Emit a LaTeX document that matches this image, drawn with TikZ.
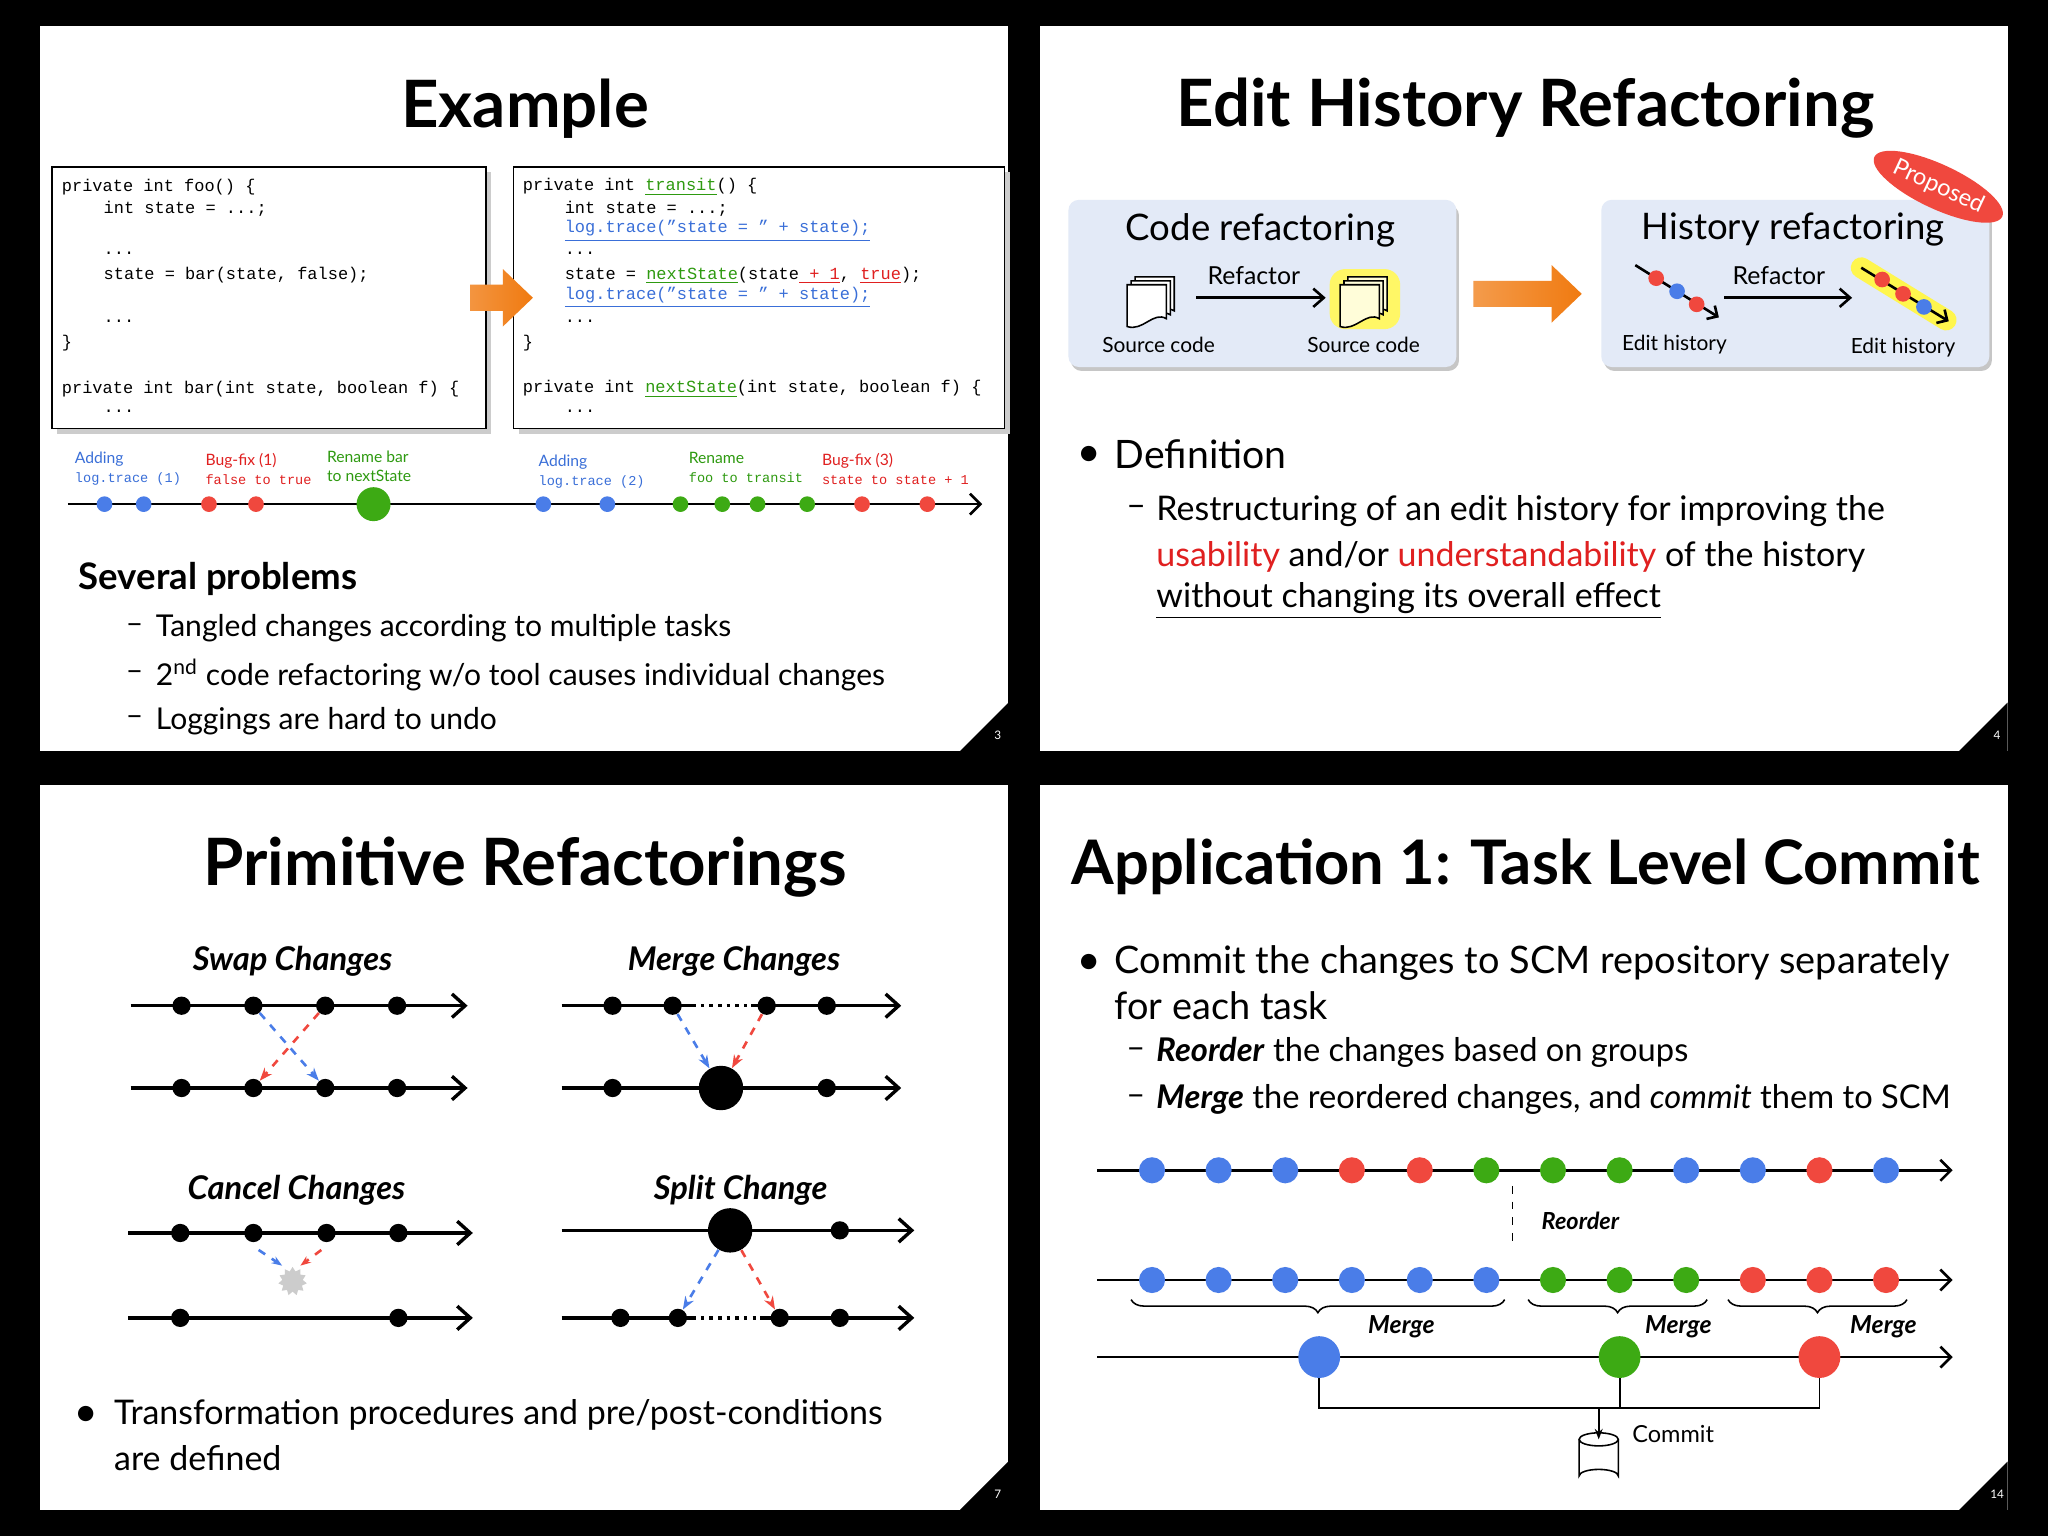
\documentclass[tikz,border=0pt]{standalone}
\usepackage{fontspec}
\setmainfont{Lato}
\newfontfamily\mono{Liberation Mono}
\usetikzlibrary{arrows.meta,shapes.geometric,decorations.pathreplacing,shadings}
\definecolor{cB}{HTML}{4A7DE8}
\definecolor{cR}{HTML}{F0483E}
\definecolor{cG}{HTML}{3DAA14}
\definecolor{tB}{HTML}{3A6FD8}
\definecolor{tR}{HTML}{E02020}
\definecolor{tG}{HTML}{2E9A10}
\definecolor{boxbg}{HTML}{E3EAF7}
\definecolor{orng}{HTML}{F07A10}
\newcommand\lm[1]{{\mono\fontsize{5.2}{7.2}\selectfont #1}}
\tikzset{
  x=0.5pt,y=-0.5pt,
  title/.style={font=\fontsize{25}{28}\selectfont\bfseries},
  body/.style={anchor=west,inner sep=0pt,font=\fontsize{11.5}{14}\selectfont},
  code/.style={anchor=west,inner sep=0pt,font=\mono\fontsize{6.5}{8}\selectfont},
  lbl/.style={anchor=west,inner sep=0pt,align=left,font=\fontsize{6}{7.2}\selectfont},
  dot/.style={circle,inner sep=0pt,minimum size=6pt,draw=none},
  big/.style={circle,inner sep=0pt,minimum size=13pt,draw=none},
  bk/.style={dot,fill=black,minimum size=7pt},
  bkbig/.style={circle,inner sep=0pt,minimum size=17pt,fill=black},
  tl/.style={line width=1pt,-{Straight Barb[length=4pt,width=8pt]}},
  tl3/.style={line width=1.3pt,-{Straight Barb[length=5pt,width=9pt]}},
  hd/.style={font=\fontsize{12.5}{14}\selectfont\bfseries\itshape},
  dsh/.style={line width=1pt,dashed,-{Stealth[length=5pt]}},
  pgn/.style={text=white,font=\fontsize{4.5}{5}\selectfont},
  pics/doc/.style={code={
    \foreach \o in {6,3,0}{
      \draw[fill=#1,line width=0.6pt] (\o,-\o) -- (30+\o,-\o) -- (30+\o,26-\o) .. controls (20+\o,20-\o) and (12+\o,36-\o) .. (\o,32-\o) -- cycle;}
  }},
}
\begin{document}
\begin{tikzpicture}
\fill[black] (0,0) rectangle (1568,1176);
\foreach \a/\b in {31/20,796/20,31/601,796/601}
  \fill[white] (\a,\b) rectangle (\a+741,\b+555);
\foreach \a/\b/\n in {772/575/3,1537/575/4,772/1156/7,1537/1156/14}{
  \fill[black] (\a,\b) -- (\a-37,\b) -- (\a,\b-37) -- cycle;
  \node[pgn] at (\a-8,\b-12) {\n};}

%================ Slide 1
\node[title] (t1) at (402,83) {Example};
\fill[gray!40] (44,132) rectangle (376,332);
\draw[fill=white,line width=0.6pt] (40,128) rectangle (372,328);
\fill[gray!40] (397,132) rectangle (773,332);
\draw[fill=white,line width=0.6pt] (393,128) rectangle (769,328);
\node[code] at (47,143) {private int foo() \{};
\node[code] at (79,160) {int state = ...;};
\node[code] at (79,194) {...};
\node[code] at (79,211) {state = bar(state, false);};
\node[code] at (79,246) {...};
\node[code] at (47,263) {\}};
\node[code] at (47,298) {private int bar(int state, boolean f) \{};
\node[code] at (79,315) {...};
\node[code] at (400,143) {private int \textcolor{tG}{\underline{transit}}() \{};
\node[code] at (432,160) {int state = ...;};
\node[code,text=tB] at (432,177) {\underline{log.trace(”state = ” + state);}};
\node[code] at (432,194) {...};
\node[code] at (432,211) {state = \textcolor{tG}{\underline{nextState}}(state\textcolor{tR}{\underline{ + 1}}, \textcolor{tR}{\underline{true}});};
\node[code,text=tB] at (432,228) {\underline{log.trace(”state = ” + state);}};
\node[code] at (432,246) {...};
\node[code] at (400,263) {\}};
\node[code] at (400,298) {private int \textcolor{tG}{\underline{nextState}}(int state, boolean f) \{};
\node[code] at (432,315) {...};
\shade[left color=orng!80,right color=orng,draw=none] (360,218) -- (385,218) -- (385,206) -- (408,228) -- (385,250) -- (385,238) -- (360,238) -- cycle;
\coordinate (a1) at (52,386); \coordinate (b1) at (752,386);
\draw[tl] (a1) -- (b1);
\foreach \x/\c in {80/cB,110/cB,160/cR,196/cR,416/cB,465/cB,521/cG,553/cG,580/cG,618/cG,660/cR,710/cR}
  \node[dot,fill=\c] at (\x,386) {};
\node[big,fill=cG] (g1) at (286,386) {};
\node[lbl,text=tB] at (57,359) {Adding\\\lm{log.trace (1)}};
\node[lbl,text=tR] at (157,359) {Bug-fix (1)\\\lm{false to true}};
\node[lbl,text=tG] at (250,357) {Rename bar\\to nextState};
\node[lbl,text=tB] at (412,361) {Adding\\\lm{log.trace (2)}};
\node[lbl,text=tG] at (527,358) {Rename\\\lm{foo to transit}};
\node[lbl,text=tR] at (629,359) {Bug-fix (3)\\\lm{state to state + 1}};
\node[body,font=\fontsize{14}{16}\selectfont\bfseries] at (60,443) {Several problems};
\node[body] at (96,481) {–}; \node[body] at (119,481) {Tangled changes according to multiple tasks};
\node[body] at (96,517) {–}; \node[body] at (119,517) {2\textsuperscript{nd} code refactoring w/o tool causes individual changes};
\node[body] at (96,552) {–}; \node[body] at (119,552) {Loggings are hard to undo};

%================ Slide 2
\node[title] (t2) at (1168,83) {Edit History Refactoring};
\fill[gray!45,rounded corners=4pt] (820,157) rectangle (1117,284);
\fill[boxbg,rounded corners=4pt] (818,153) rectangle (1115,281);
\fill[gray!45,rounded corners=4pt] (1228,157) rectangle (1525,284);
\fill[boxbg,rounded corners=4pt] (1226,153) rectangle (1523,281);
\node[font=\fontsize{14}{16}\selectfont] at (965,176) {Code refactoring};
\node[font=\fontsize{14}{16}\selectfont] at (1373,176) {History refactoring};
\pic at (863,218) {doc=white};
\fill[yellow!60,rounded corners=6pt] (1018,206) rectangle (1072,252);
\pic at (1026,218) {doc=yellow!15};
\node[font=\fontsize{9.5}{11}\selectfont] at (960,211) {Refactor};
\node[font=\fontsize{9.5}{11}\selectfont] at (1362,211) {Refactor};
\coordinate (r1a) at (916,228); \coordinate (r1b) at (1015,228);
\draw[line width=1pt,-{Straight Barb[length=4pt,width=7pt]}] (r1a) -- (r1b);
\coordinate (r2a) at (1320,228); \coordinate (r2b) at (1418,228);
\draw[line width=1pt,-{Straight Barb[length=4pt,width=7pt]}] (r2a) -- (r2b);
\node[font=\fontsize{8}{10}\selectfont] at (887,264) {Source code};
\node[font=\fontsize{8}{10}\selectfont] at (1044,264) {Source code};
\node[font=\fontsize{8}{10}\selectfont] at (1282,264) {Edit history};
\node[font=\fontsize{8}{10}\selectfont] at (1457,266) {Edit history};
\draw[line width=1pt,-{Straight Barb[length=3pt,width=6pt]}] (1252,203) -- (1316,243);
\node[dot,fill=cR] at (1268,213) {}; \node[dot,fill=cB] at (1284,223) {}; \node[dot,fill=cR] at (1299,233) {};
\draw[yellow!70,line width=8pt,line cap=round] (1425,205) -- (1490,245);
\draw[line width=1pt,-{Straight Barb[length=3pt,width=6pt]}] (1425,205) -- (1492,246);
\node[dot,fill=cR] at (1441,214) {}; \node[dot,fill=cR] at (1457,225) {}; \node[dot,fill=cB] at (1473,235) {};
\shade[left color=orng!75,right color=orng,draw=none] (1128,215) -- (1188,215) -- (1188,203) -- (1211,225) -- (1188,247) -- (1188,235) -- (1128,235) -- cycle;
\begin{scope}
\clip (796,20) rectangle (1537,575);
\node[ellipse,fill=cR,rotate=-25,minimum width=54pt,minimum height=17pt,inner sep=0pt] (pe) at (1484,143) {};
\node[text=white,rotate=-25,inner sep=0pt,font=\fontsize{9}{10}\selectfont] at (pe.center) {Proposed};
\end{scope}
\node[body,font=\fontsize{12}{14}\selectfont] at (826,348) {●};
\node[body,font=\fontsize{15}{18}\selectfont] at (853,348) {Definition};
\node[body,font=\fontsize{13}{16}\selectfont] at (862,391) {–};
\node[body,font=\fontsize{13}{16}\selectfont] at (885,391) {Restructuring of an edit history for improving the};
\node[body,font=\fontsize{13}{16}\selectfont] at (885,426) {\textcolor{tR}{usability} and/or \textcolor{tR}{understandability} of the history};
\node[body,font=\fontsize{13}{16}\selectfont] at (885,460) {\underline{without changing its overall effect}};

%================ Slide 3
\node[title] (t3) at (402,664) {Primitive Refactorings};
\node[hd] at (224,736) {Swap Changes};
\node[hd] at (562,736) {Merge Changes};
\node[hd] at (227,911) {Cancel Changes};
\node[hd] at (567,911) {Split Change};
% swap
\draw[tl3] (100,770) -- (358,770);
\draw[tl3] (100,833) -- (358,833);
\foreach \x [count=\i] in {139,194,249,304}{
  \node[bk] (sa\i) at (\x,770) {}; \node[bk] (sb\i) at (\x,833) {};}
\draw[dsh,cB] (sa2) -- (sb3);
\draw[dsh,cR] (sa3) -- (sb2);
% merge
\draw[line width=1.3pt] (430,770) -- (530,770);
\draw[line width=1.3pt,dotted] (530,770) -- (575,770);
\draw[tl3] (575,770) -- (690,770);
\draw[tl3] (430,833) -- (690,833);
\node[bk] at (469,770) {}; \node[bk] (ma2) at (515,770) {}; \node[bk] (ma3) at (587,770) {}; \node[bk] at (633,770) {};
\node[bk] at (469,833) {}; \node[bkbig] (mb) at (552,833) {}; \node[bk] at (633,833) {};
\draw[dsh,cB] (ma2) -- (mb);
\draw[dsh,cR] (ma3) -- (mb);
% cancel
\draw[tl3] (98,944) -- (362,944);
\draw[tl3] (98,1009) -- (362,1009);
\foreach \x in {138,194,250,305} \node[bk] at (\x,944) {};
\node[bk] at (138,1009) {}; \node[bk] at (305,1009) {};
\node[star,star points=11,star point ratio=1.4,fill=gray!40,inner sep=0pt,minimum size=11pt] (sp) at (224,981) {};
\coordinate (cb1) at (198,957); \coordinate (cb2) at (216,969);
\coordinate (cr1) at (246,957); \coordinate (cr2) at (230,969);
\draw[line width=1pt,dashed,cB,-{Stealth[length=4pt]}] (cb1) -- (cb2);
\draw[line width=1pt,dashed,cR,-{Stealth[length=4pt]}] (cr1) -- (cr2);
% split
\draw[tl3] (430,942) -- (700,942);
\node[bkbig] (sp1) at (559,942) {}; \node[bk] at (643,942) {};
\draw[line width=1.3pt] (430,1009) -- (530,1009);
\draw[line width=1.3pt,dotted] (530,1009) -- (582,1009);
\draw[tl3] (582,1009) -- (700,1009);
\node[bk] at (475,1009) {}; \node[bk] (sq2) at (519,1009) {}; \node[bk] (sq3) at (597,1009) {}; \node[bk] at (643,1009) {};
\draw[dsh,cB] (sp1) -- (sq2);
\draw[dsh,cR] (sp1) -- (sq3);
\node[body,font=\fontsize{12}{14}\selectfont] at (58,1083) {●};
\node[body,font=\fontsize{13}{16}\selectfont] at (87,1083) {Transformation procedures and pre/post-conditions};
\node[body,font=\fontsize{13}{16}\selectfont] at (87,1116) {are defined};

%================ Slide 4
\node[title,font=\fontsize{23.5}{26}\selectfont\bfseries] (t4) at (1168,664) {Application 1: Task Level Commit};
\node[body,font=\fontsize{12}{14}\selectfont] at (826,737) {●};
\node[body,font=\fontsize{14.5}{17}\selectfont] at (853,737) {Commit the changes to SCM repository separately};
\node[body,font=\fontsize{14.5}{17}\selectfont] at (853,770) {for each task};
\node[body,font=\fontsize{12.5}{14}\selectfont] at (862,806) {–};
\node[body,font=\fontsize{12.5}{14}\selectfont] at (885,806) {\textbf{\textit{Reorder}} the changes based on groups};
\node[body,font=\fontsize{12.5}{14}\selectfont] at (862,842) {–};
\node[body,font=\fontsize{12.5}{14}\selectfont] at (885,842) {\textbf{\textit{Merge}} the reordered changes, and \textit{commit} them to SCM};
\draw[tl] (840,896) -- (1495,896);
\draw[tl] (840,980) -- (1495,980);
\draw[tl] (840,1039) -- (1495,1039);
\foreach \x/\c in {882/cB,933/cB,984/cB,1035/cR,1087/cR,1138/cG,1189/cG,1240/cG,1291/cB,1342/cB,1393/cR,1444/cB}
  \node[dot,fill=\c,minimum size=10pt] at (\x,896) {};
\foreach \x/\c in {882/cB,933/cB,984/cB,1035/cB,1087/cB,1138/cB,1189/cG,1240/cG,1291/cG,1342/cR,1393/cR,1444/cR}
  \node[dot,fill=\c,minimum size=10pt] at (\x,980) {};
\draw[dashed,line width=0.7pt] (1158,908) -- (1158,955);
\node[font=\fontsize{9}{11}\selectfont\bfseries\itshape] at (1210,935) {Reorder};
\draw[decorate,decoration={brace,mirror,amplitude=5pt},line width=0.6pt] (866,995) -- (1152,995);
\draw[decorate,decoration={brace,mirror,amplitude=5pt},line width=0.6pt] (1170,995) -- (1307,995);
\draw[decorate,decoration={brace,mirror,amplitude=5pt},line width=0.6pt] (1323,995) -- (1460,995);
\node[font=\fontsize{9.5}{11}\selectfont\bfseries\itshape] at (1073,1016) {Merge};
\node[font=\fontsize{9.5}{11}\selectfont\bfseries\itshape] at (1285,1016) {Merge};
\node[font=\fontsize{9.5}{11}\selectfont\bfseries\itshape] at (1442,1016) {Merge};
\node[big,fill=cB,minimum size=16pt] (m1) at (1010,1039) {};
\node[big,fill=cG,minimum size=16pt] (m2) at (1240,1039) {};
\node[big,fill=cR,minimum size=16pt] (m3) at (1393,1039) {};
\coordinate (j1) at (1010,1078); \coordinate (j3) at (1393,1078); \coordinate (jc) at (1224,1078);
\draw[line width=0.7pt] (m1) -- (j1) -- (j3) -- (m3);
\draw[line width=0.7pt] (m2) -- (1240,1078);
\coordinate (db) at (1224,1102);
\draw[line width=0.6pt,fill=white] (1209,1102) -- (1209,1130) arc[start angle=180,end angle=360,x radius=15,y radius=5] -- (1239,1102);
\draw[line width=0.6pt,fill=white] (1224,1102) ellipse[x radius=15,y radius=5];
\draw[line width=0.7pt,-{Stealth[length=4pt]}] (jc) -- (db);
\node[font=\fontsize{9}{11}\selectfont] at (1281,1098) {Commit};
\end{tikzpicture}
\end{document}
